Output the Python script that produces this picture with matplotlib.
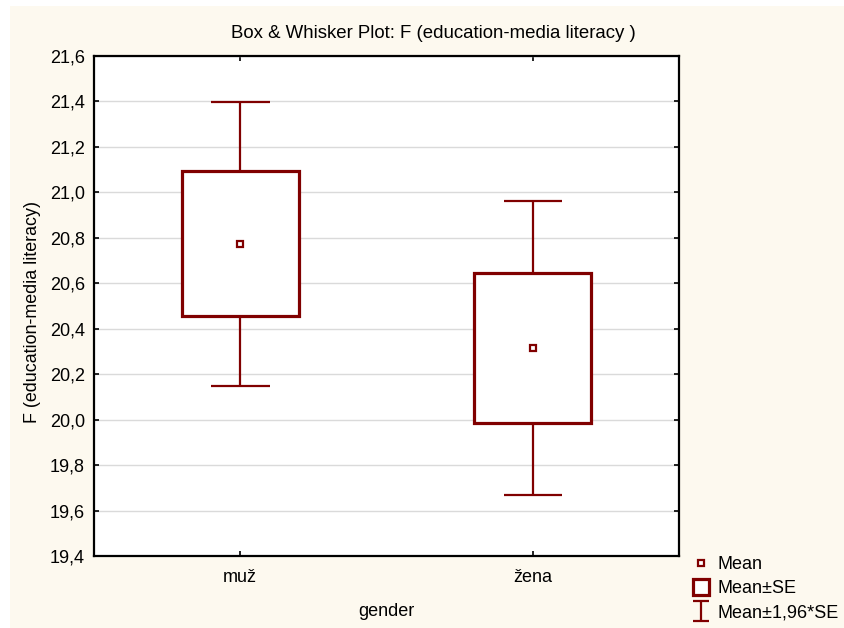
import numpy as np
import matplotlib.pyplot as plt
from matplotlib.lines import Line2D
from matplotlib.path import Path
from matplotlib.patches import Rectangle

plt.rcParams['font.family'] = ['Liberation Sans', 'DejaVu Sans']

# group means and standard errors
groups = ['muž', 'žena']
means = [20.773, 20.315]
se = [0.319, 0.331]

yticks = np.arange(19.4, 21.61, 0.2)
red = '#800000'
W, H = 844, 628

fig = plt.figure(figsize=(8.44, 6.28), dpi=100, facecolor='white')
# statistica-like cream background
fig.patches.append(Rectangle((10 / W, 0), 1, 1 - 6 / H, transform=fig.transFigure,
                             facecolor='#fdf9ef', edgecolor='none', zorder=-10))

ax = fig.add_axes([94 / W, (H - 556) / H, 585 / W, 500 / H])
ax.set_facecolor('white')

x = np.arange(len(groups))
m = np.array(means)
s = np.array(se)
lo, hi = m - 1.96 * s, m + 1.96 * s

# whiskers (mean +- 1.96*SE)
ax.vlines(x, lo, hi, color=red, lw=1.6, zorder=3)
ax.hlines(lo, x - 0.1, x + 0.1, color=red, lw=1.6, zorder=3)
ax.hlines(hi, x - 0.1, x + 0.1, color=red, lw=1.6, zorder=3)
# boxes (mean +- SE)
ax.bar(x, 2 * s, bottom=m - s, width=0.4, facecolor='white', edgecolor=red,
       linewidth=2.3, zorder=4)
# means
ax.plot(x, m, 's', ms=5, mfc='white', mec=red, mew=1.6, zorder=5, linestyle='none')

ax.set_xlim(-0.5, 1.5)
ax.set_ylim(19.4, 21.6)
ax.set_xticks(x)
ax.set_xticklabels(groups)
ax.set_yticks(yticks)
ax.set_yticklabels([f'{v:.1f}'.replace('.', ',') for v in yticks])
ax.tick_params(direction='in', top=True, right=True, length=3.5, width=1.2,
               labelsize=13, colors='black')
ax.tick_params(axis='x', pad=9)
ax.tick_params(axis='y', pad=6.5)
ax.grid(axis='y', color='#dadada', lw=1)
ax.set_axisbelow(True)
for sp in ax.spines.values():
    sp.set_linewidth(1.6)

fig.text(433 / W, 1 - 34 / H, 'Box & Whisker Plot: F (education-media literacy )',
         ha='center', va='center', fontsize=13.4)
fig.text(386 / W, 1 - 612 / H, 'gender', ha='center', va='center', fontsize=13)
fig.text(33 / W, 1 - 312 / H, 'F (education-media literacy)', rotation=90,
         ha='center', va='center', fontsize=12.9)

# legend handles
whisk = Path([(-1, -1.2), (1, -1.2), (0, -1.2), (0, 1.2), (-1, 1.2), (1, 1.2)],
             [Path.MOVETO, Path.LINETO, Path.MOVETO, Path.LINETO, Path.MOVETO, Path.LINETO])
handles = [
    Line2D([], [], marker='s', ms=5, mfc='white', mec=red, mew=1.6, ls='none'),
    Line2D([], [], marker='s', ms=12, mfc='white', mec=red, mew=2.3, ls='none'),
    Line2D([], [], marker=whisk, ms=14, mfc='none', mec=red, mew=1.6, ls='none'),
]
fig.legend(handles, ['Mean', 'Mean±SE', 'Mean±1,96*SE'], loc='upper left',
           bbox_to_anchor=(682 / W, 1 - 547 / H), frameon=False, fontsize=13,
           handlelength=1.1, handletextpad=0.35, labelspacing=0.4, borderpad=0)

fig.savefig('out.png', dpi=100, facecolor=fig.get_facecolor())
